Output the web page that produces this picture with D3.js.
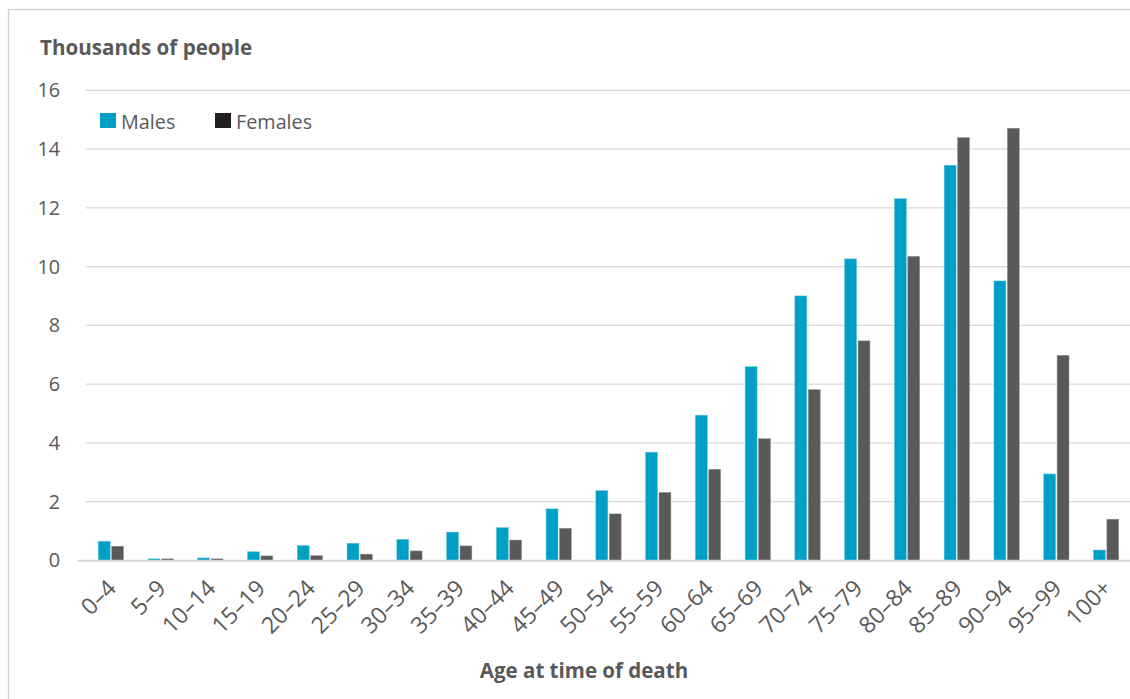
<!DOCTYPE html>
<html>
<head>
<meta charset="utf-8">
<script src="https://cdn.jsdelivr.net/npm/d3@7"></script>
<style>
  html, body { margin: 0; padding: 0; background: #fff; }
  svg { display: block; }
  text { font-family: "Open Sans", "Noto Sans", sans-serif; }
</style>
</head>
<body>
<svg id="chart" width="1130" height="699"></svg>
<script>
const categories = ["0–4","5–9","10–14","15–19","20–24","25–29","30–34","35–39","40–44","45–49","50–54","55–59","60–64","65–69","70–74","75–79","80–84","85–89","90–94","95–99","100+"];
const males   = [0.65,0.05,0.08,0.29,0.50,0.58,0.71,0.96,1.11,1.75,2.37,3.68,4.94,6.59,9.00,10.26,12.31,13.45,9.51,2.94,0.35];
const females = [0.48,0.05,0.05,0.15,0.16,0.21,0.32,0.49,0.69,1.09,1.58,2.31,3.10,4.14,5.81,7.47,10.35,14.39,14.71,6.98,1.40];
const yTicks = [0,2,4,6,8,10,12,14,16];
const seriesNames = ["Males","Females"];

const svg = d3.select("#chart");
const maleColor = "#00a0c6", femaleColor = "#595959", legendFemale = "#231f20";
const textColor = "#595959", gridColor = "#d9d9d9";

// frame
svg.append("rect").attr("x",8.5).attr("y",9.5).attr("width",1140).attr("height",700)
  .attr("fill","none").attr("stroke","#d0d0d0").attr("stroke-width",1.3);

const x = d3.scaleBand().domain(categories).range([86, 1131]);
const y = d3.scaleLinear().domain([0,16]).range([560.3, 90.3]);
const inner = d3.scaleBand().domain(seriesNames).range([0, 25.3]).paddingInner(0.11);

// gridlines
svg.append("g").selectAll("line").data(yTicks.filter(d=>d>0)).join("line")
  .attr("x1",86).attr("x2",1130).attr("y1",d=>y(d)).attr("y2",d=>y(d))
  .attr("stroke",gridColor).attr("stroke-width",1.3);

// y tick labels
svg.append("g").selectAll("text").data(yTicks).join("text")
  .attr("x",60).attr("y",d=>y(d)).attr("dy","0.36em").attr("text-anchor","end")
  .attr("fill",textColor).attr("font-size",19.8).text(d=>d);

// bars
const groups = svg.append("g").selectAll("g").data(categories).join("g")
  .attr("transform",d=>`translate(${x(d)+x.bandwidth()/2-12.65},0)`);
groups.append("rect").attr("x",inner("Males")).attr("width",inner.bandwidth())
  .attr("y",(d,i)=>y(males[i])).attr("height",(d,i)=>y(0)-y(males[i]))
  .attr("fill",maleColor).attr("stroke","#5cc3dc").attr("stroke-width",0.5);
groups.append("rect").attr("x",inner("Females")).attr("width",inner.bandwidth())
  .attr("y",(d,i)=>y(females[i])).attr("height",(d,i)=>y(0)-y(females[i]))
  .attr("fill",femaleColor).attr("stroke","#9a9a9a").attr("stroke-width",0.5);

// baseline
svg.append("line").attr("x1",77).attr("x2",1130).attr("y1",y(0)+0.5).attr("y2",y(0)+0.5)
  .attr("stroke",gridColor).attr("stroke-width",2);

// x labels
svg.append("g").selectAll("text").data(categories).join("text")
  .attr("transform",d=>`translate(${x(d)+x.bandwidth()/2+1},${584}) rotate(-45)`)
  .attr("text-anchor","end").attr("dy","0.35em")
  .attr("fill",textColor).attr("font-size",23).text(d=>d);

// titles
svg.append("text").attr("x",40).attr("y",55).attr("font-size",20.6).attr("font-weight","bold")
  .attr("fill",textColor).text("Thousands of people");
svg.append("text").attr("x",584).attr("y",678).attr("text-anchor","middle").attr("font-size",20.5)
  .attr("font-weight","bold").attr("fill",textColor).text("Age at time of death");

// legend
const leg = [{n:"Males",c:maleColor,x:100},{n:"Females",c:legendFemale,x:215}];
const lg = svg.append("g").selectAll("g").data(leg).join("g").attr("transform",d=>`translate(${d.x},113)`);
lg.append("rect").attr("width",16).attr("height",15).attr("fill",d=>d.c);
lg.append("text").attr("x",21).attr("y",15.5).attr("font-size",19.8).attr("fill",textColor).text(d=>d.n);
</script>
</body>
</html>
